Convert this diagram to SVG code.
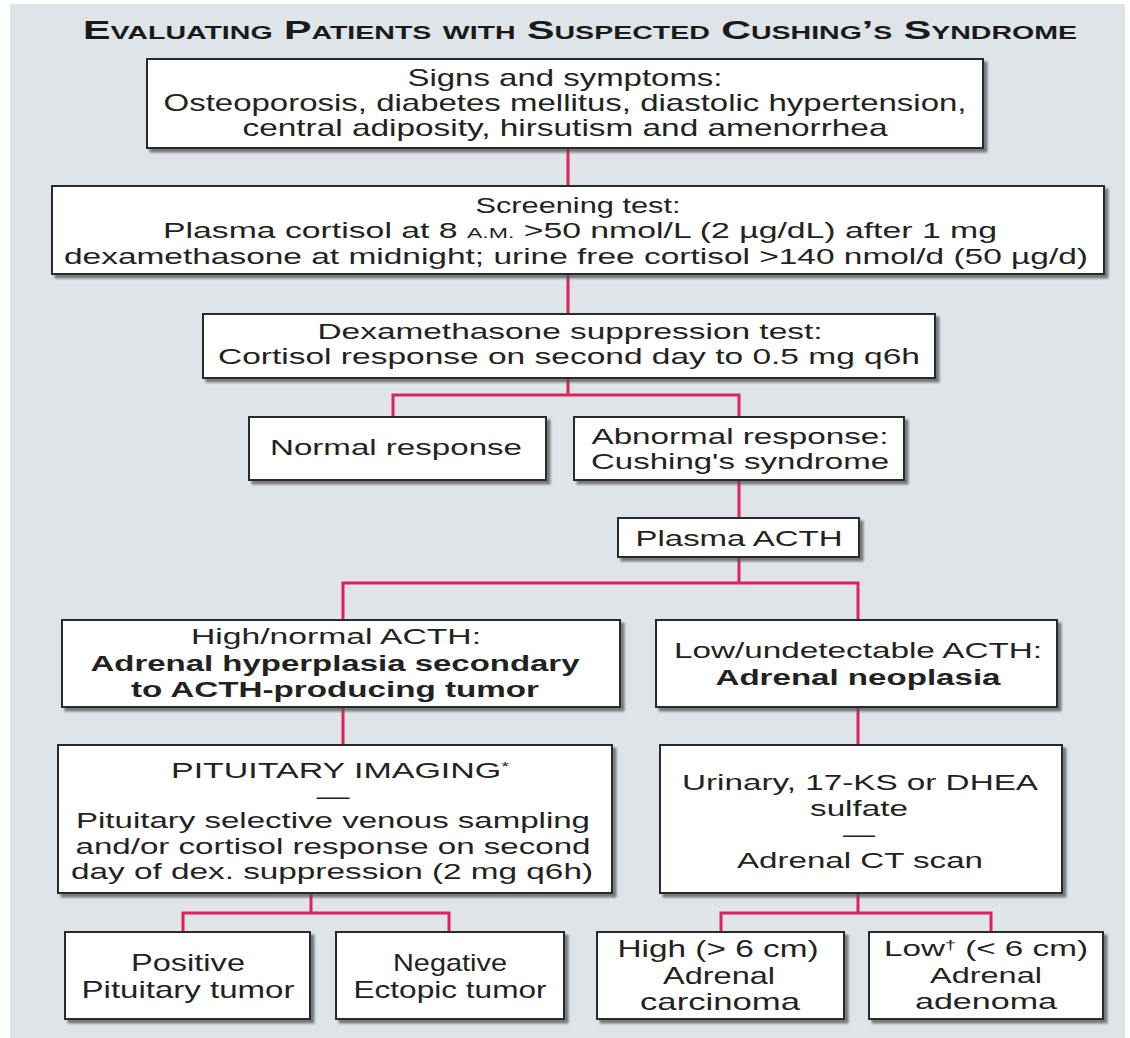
<svg xmlns="http://www.w3.org/2000/svg" width="1130" height="1038" viewBox="0 0 1130 1038">
<style>
text{font-family:"Liberation Sans",Arial,Helvetica,sans-serif;font-size:22px;fill:#222;text-anchor:middle}
.n{font-size:24px}
.b{font-weight:bold}
.box{fill:#fff;stroke:#2b2b2b;stroke-width:2;filter:url(#sh)}
.con{fill:none;stroke:#e2215a;stroke-width:3}
.title{font-size:26px;font-weight:bold;font-variant:small-caps;fill:#1a1a1a}
.sc{font-size:15px}
.sup{font-size:13px}
</style>
<defs>
<filter id="sh" x="-5%" y="-5%" width="110%" height="120%">
<feDropShadow dx="3.5" dy="3.5" stdDeviation="1.2" flood-color="#555" flood-opacity="0.75"/>
</filter>
</defs>
<rect x="10" y="4" width="1115" height="1034" fill="#dfe4e9"/>
<text class="title" x="580" y="39" textLength="994" lengthAdjust="spacingAndGlyphs">Evaluating Patients with Suspected Cushing’s Syndrome</text>

<g id="connectors">
<path class="con" d="M568,148V186"/>
<path class="con" d="M568,274V314"/>
<path class="con" d="M568,378V395M393,417V395H739V417"/>
<path class="con" d="M739,480V518"/>
<path class="con" d="M739,557V583M343,620V583H858V620"/>
<path class="con" d="M343,707V745"/>
<path class="con" d="M858,707V745"/>
<path class="con" d="M311,893V913M183,932V913H449V932"/>
<path class="con" d="M858,893V913M721,932V913H991V932"/>
</g>

<g id="signs">
<rect class="box" x="147" y="59" width="836" height="89"/>
<text class="n" x="565" y="86" textLength="315" lengthAdjust="spacingAndGlyphs">Signs and symptoms:</text>
<text class="n" x="565" y="111" textLength="803" lengthAdjust="spacingAndGlyphs">Osteoporosis, diabetes mellitus, diastolic hypertension,</text>
<text class="n" x="565" y="136" textLength="645" lengthAdjust="spacingAndGlyphs">central adiposity, hirsutism and amenorrhea</text>
</g>

<g id="screening">
<rect class="box" x="52" y="186" width="1052" height="88"/>
<text x="578" y="213" textLength="205" lengthAdjust="spacingAndGlyphs">Screening test:</text>
<text x="580" y="238" textLength="834" lengthAdjust="spacingAndGlyphs">Plasma cortisol at 8 <tspan class="sc">A.M.</tspan> &gt;50 nmol/L (2 µg/dL) after 1 mg</text>
<text x="576" y="264" textLength="1024" lengthAdjust="spacingAndGlyphs">dexamethasone at midnight; urine free cortisol &gt;140 nmol/d (50 µg/d)</text>
</g>

<g id="dexsupp">
<rect class="box" x="203" y="314" width="732" height="64"/>
<text x="570" y="339" textLength="505" lengthAdjust="spacingAndGlyphs">Dexamethasone suppression test:</text>
<text x="569" y="364" textLength="702" lengthAdjust="spacingAndGlyphs">Cortisol response on second day to 0.5 mg q6h</text>
</g>

<g id="normal">
<rect class="box" x="249" y="417" width="297" height="63"/>
<text x="396" y="455" textLength="252" lengthAdjust="spacingAndGlyphs">Normal response</text>
</g>

<g id="abnormal">
<rect class="box" x="574" y="417" width="330" height="63"/>
<text x="740" y="444" textLength="297" lengthAdjust="spacingAndGlyphs">Abnormal response:</text>
<text x="740" y="469" textLength="298" lengthAdjust="spacingAndGlyphs">Cushing's syndrome</text>
</g>

<g id="acth">
<rect class="box" x="618" y="518" width="241" height="39"/>
<text x="739" y="546" textLength="207" lengthAdjust="spacingAndGlyphs">Plasma ACTH</text>
</g>

<g id="highacth">
<rect class="box" x="62" y="620" width="558" height="87"/>
<text x="336" y="644" textLength="290" lengthAdjust="spacingAndGlyphs">High/normal ACTH:</text>
<text class="b" x="335" y="671" textLength="489" lengthAdjust="spacingAndGlyphs">Adrenal hyperplasia secondary</text>
<text class="b" x="335" y="697" textLength="408" lengthAdjust="spacingAndGlyphs">to ACTH-producing tumor</text>
</g>

<g id="lowacth">
<rect class="box" x="656" y="620" width="401" height="87"/>
<text x="858" y="658" textLength="368" lengthAdjust="spacingAndGlyphs">Low/undetectable ACTH:</text>
<text class="b" x="858" y="685" textLength="285" lengthAdjust="spacingAndGlyphs">Adrenal neoplasia</text>
</g>

<g id="pituitary">
<rect class="box" x="58" y="745" width="554" height="148"/>
<text x="340" y="778" textLength="338" lengthAdjust="spacingAndGlyphs">PITUITARY IMAGING<tspan class="sup" dy="-7">*</tspan></text>
<text x="333" y="804" textLength="33" lengthAdjust="spacingAndGlyphs">—</text>
<text x="333" y="828" textLength="514" lengthAdjust="spacingAndGlyphs">Pituitary selective venous sampling</text>
<text x="333" y="854" textLength="515" lengthAdjust="spacingAndGlyphs">and/or cortisol response on second</text>
<text x="332" y="879" textLength="522" lengthAdjust="spacingAndGlyphs">day of dex. suppression (2 mg q6h)</text>
</g>

<g id="urinary">
<rect class="box" x="660" y="745" width="402" height="148"/>
<text x="860" y="790" textLength="356" lengthAdjust="spacingAndGlyphs">Urinary, 17-KS or DHEA</text>
<text x="859" y="816" textLength="98" lengthAdjust="spacingAndGlyphs">sulfate</text>
<text x="859" y="842" textLength="32" lengthAdjust="spacingAndGlyphs">—</text>
<text x="860" y="868" textLength="246" lengthAdjust="spacingAndGlyphs">Adrenal CT scan</text>
</g>

<g id="positive">
<rect class="box" x="65" y="932" width="245" height="87"/>
<text class="n" x="188" y="971" textLength="114" lengthAdjust="spacingAndGlyphs">Positive</text>
<text class="n" x="188" y="998" textLength="213" lengthAdjust="spacingAndGlyphs">Pituitary tumor</text>
</g>

<g id="negative">
<rect class="box" x="336" y="932" width="228" height="87"/>
<text class="n" x="450" y="971" textLength="114" lengthAdjust="spacingAndGlyphs">Negative</text>
<text class="n" x="450" y="998" textLength="193" lengthAdjust="spacingAndGlyphs">Ectopic tumor</text>
</g>

<g id="carcinoma">
<rect class="box" x="597" y="932" width="247" height="87"/>
<text class="n" x="718" y="957" textLength="201" lengthAdjust="spacingAndGlyphs">High (&gt; 6 cm)</text>
<text class="n" x="719" y="984" textLength="112" lengthAdjust="spacingAndGlyphs">Adrenal</text>
<text class="n" x="720" y="1010" textLength="160" lengthAdjust="spacingAndGlyphs">carcinoma</text>
</g>

<g id="adenoma">
<rect class="box" x="869" y="932" width="234" height="87"/>
<text x="986" y="956" textLength="204" lengthAdjust="spacingAndGlyphs">Low<tspan class="sup" dy="-7">†</tspan><tspan dy="7"> (&lt; 6 cm)</tspan></text>
<text x="986" y="983" textLength="112" lengthAdjust="spacingAndGlyphs">Adrenal</text>
<text x="986" y="1009" textLength="142" lengthAdjust="spacingAndGlyphs">adenoma</text>
</g>
</svg>
